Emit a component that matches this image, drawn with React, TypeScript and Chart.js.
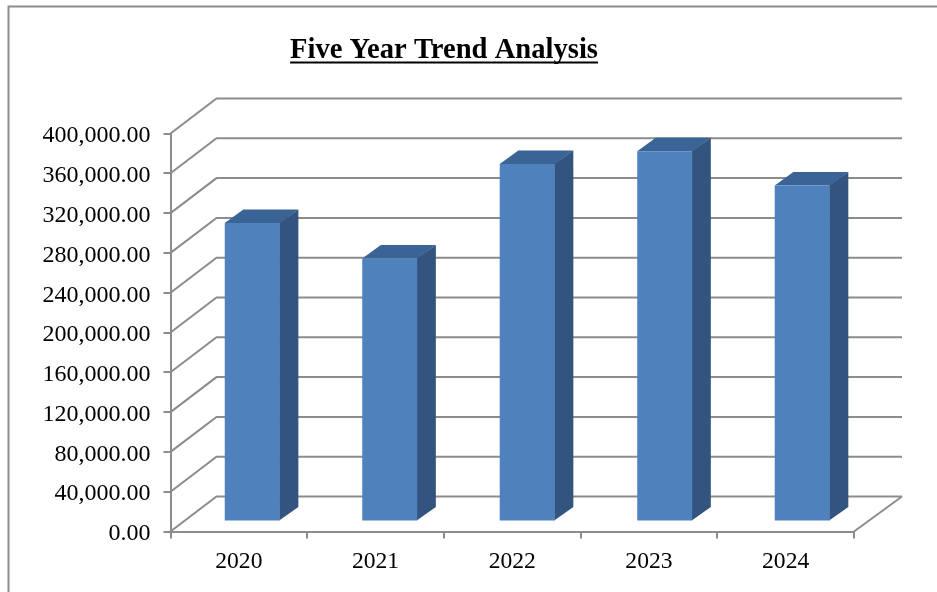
import React, { useEffect, useRef } from "react";
import { Chart, registerables } from "chart.js";

Chart.register(...registerables);

const years = ["2020", "2021", "2022", "2023", "2024"];
const trendValues = [300000, 264300, 359300, 372200, 337700];
const chartTitle = "Five Year Trend Analysis";

const LINE = "#8c8c8c";
const SERIF = "'Liberation Serif', serif";
const TITLE_SIZE = 28.6;

// Projection offsets of the pseudo-3D box
const WALL_DX = 46;
const WALL_DX_RIGHT = 48;
const WALL_DY = -35;
const BAR_SHIFT_X = 13;
const BAR_SHIFT_Y = -10;
const BAR_SPREAD = 1.0058;
const BAR_DX = 18.5;
const BAR_DY = -13.5;

const polygon = (ctx: CanvasRenderingContext2D, pts: number[][], fill: string) => {
  ctx.beginPath();
  pts.forEach(([x, y], i) => (i ? ctx.lineTo(x, y) : ctx.moveTo(x, y)));
  ctx.closePath();
  ctx.fillStyle = fill;
  ctx.fill();
};

const frame3d = {
  id: "frame3d",
  beforeDraw(chart: any) {
    const { ctx } = chart;
    ctx.save();
    ctx.strokeStyle = LINE;
    ctx.lineWidth = 2;
    ctx.beginPath();
    ctx.moveTo(8.5, 592);
    ctx.lineTo(8.5, 6.5);
    ctx.lineTo(937, 6.5);
    ctx.stroke();
    ctx.restore();
  },
  beforeDatasetsDraw(chart: any) {
    const { ctx, chartArea, scales } = chart;
    const { left, right, bottom } = chartArea;
    ctx.save();
    ctx.strokeStyle = LINE;
    ctx.lineWidth = 2;
    // Side-wall and back-wall gridlines, one per value tick
    scales.y.ticks.forEach((t: any) => {
      const y = scales.y.getPixelForValue(t.value);
      ctx.beginPath();
      ctx.moveTo(left, y);
      ctx.lineTo(left + WALL_DX, y + WALL_DY);
      ctx.lineTo(right + WALL_DX_RIGHT, y + WALL_DY);
      ctx.stroke();
    });
    // Floor edge on the right
    ctx.beginPath();
    ctx.moveTo(right, bottom);
    ctx.lineTo(right + WALL_DX_RIGHT, bottom + WALL_DY);
    ctx.stroke();
    ctx.restore();
  },
  beforeDatasetDraw(chart: any, args: any) {
    const { ctx, chartArea } = chart;
    ctx.save();
    // Columns stand inside the box, slightly spread by the perspective
    ctx.translate(chartArea.left + BAR_SHIFT_X, BAR_SHIFT_Y);
    ctx.scale(BAR_SPREAD, 1);
    ctx.translate(-chartArea.left, 0);
    // Top and side faces of each column; the front face is the bar element itself
    args.meta.data.forEach((bar: any) => {
      const l = bar.x - bar.width / 2;
      const r = bar.x + bar.width / 2;
      polygon(ctx, [[l, bar.y], [l + BAR_DX, bar.y + BAR_DY], [r + BAR_DX, bar.y + BAR_DY], [r, bar.y]], "#3b6496");
      polygon(ctx, [[r - 0.5, bar.y], [r + BAR_DX, bar.y + BAR_DY], [r + BAR_DX, bar.base + BAR_DY], [r - 0.5, bar.base]], "#32547e");
    });
  },
  afterDatasetDraw(chart: any) {
    chart.ctx.restore();
  },
  afterDraw(chart: any) {
    // Underline beneath the title text
    const { ctx } = chart;
    ctx.save();
    ctx.font = `bold ${TITLE_SIZE}px ${SERIF}`;
    const w = ctx.measureText(chartTitle).width;
    const cx = chart.titleBlock.left + chart.titleBlock.width / 2;
    ctx.fillStyle = "#000";
    ctx.fillRect(cx - w / 2, 61.5, w, 2);
    ctx.restore();
  },
};

export default function App() {
  const ref = useRef<HTMLCanvasElement>(null);

  useEffect(() => {
    const chart = new Chart(ref.current!, {
      type: "bar",
      data: {
        labels: years,
        datasets: [
          {
            data: trendValues,
            backgroundColor: "#4f81bd",
            borderWidth: 0,
            barPercentage: 1,
            categoryPercentage: 0.4,
            clip: false,
          },
        ],
      },
      plugins: [frame3d],
      options: {
        animation: false,
        responsive: false,
        layout: { padding: { left: 34, right: 83, top: 33, bottom: 0 } },
        plugins: {
          legend: { display: false },
          tooltip: { enabled: false },
          title: {
            display: true,
            text: chartTitle,
            color: "#000",
            font: { family: SERIF, size: TITLE_SIZE, weight: "bold", lineHeight: 1.2 },
            padding: { top: 0, bottom: 66.2 },
          },
        },
        scales: {
          x: {
            afterFit: (s: any) => {
              s.height = 60.5;
            },
            grid: { drawOnChartArea: false, color: LINE, lineWidth: 2, tickLength: 7, tickColor: LINE },
            border: { color: LINE, width: 2 },
            ticks: { color: "#000", padding: 9, font: { family: SERIF, size: 23.6 }, maxRotation: 0 },
          },
          y: {
            min: 0,
            max: 400000,
            afterFit: (s: any) => {
              s.width = 136.5;
            },
            grid: { drawOnChartArea: false, color: LINE, lineWidth: 2, tickLength: 7, tickColor: LINE },
            border: { color: LINE, width: 2 },
            ticks: {
              stepSize: 40000,
              color: "#000",
              padding: 13,
              labelOffset: 2.5,
              font: { family: SERIF, size: 24 },
              callback: (v: any) =>
                Number(v).toLocaleString("en-US", { minimumFractionDigits: 2, maximumFractionDigits: 2 }),
            },
          },
        },
      },
    } as any);
    return () => chart.destroy();
  }, []);

  return (
    <canvas
      ref={ref}
      width={937}
      height={592}
      style={{ position: "absolute", left: 0, top: 0, display: "block" }}
    />
  );
}
